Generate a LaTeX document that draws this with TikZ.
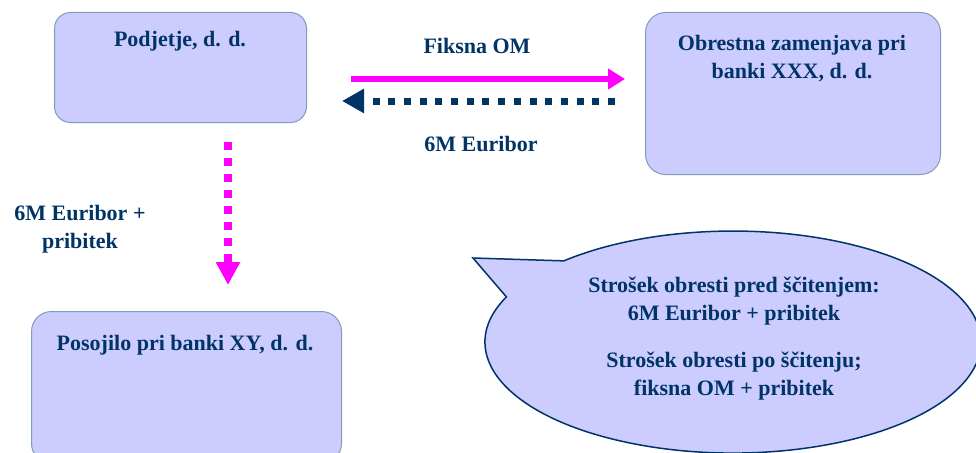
\documentclass[tikz,border=0pt]{standalone}
\usepackage{fontspec}
\setmainfont{Liberation Serif}
\usetikzlibrary{arrows.meta}
\definecolor{boxfill}{HTML}{CCCCFF}
\definecolor{boxline}{HTML}{7F9DB9}
\definecolor{navy}{HTML}{003366}
\definecolor{mag}{HTML}{FF00FF}
\begin{document}
\begin{tikzpicture}[x=1pt,y=-1pt,
  lbl/.style={font=\bfseries\fontsize{22}{28}\selectfont, text=navy, align=center, inner sep=0pt},
  entity/.style={draw=boxline, fill=boxfill, line width=1pt, rounded corners=16pt, anchor=north west, inner sep=0pt},
  flowpink/.style={mag, line width=6pt, -{Triangle[length=17pt,width=20pt]}},
  flownavy/.style={navy, line width=7pt, dash pattern=on 7pt off 8.7pt, -{Triangle[length=22pt,width=23pt]}},
  flowpinkdot/.style={mag, line width=8pt, dash pattern=on 8pt off 8pt, -{Triangle[length=23pt,width=23pt]}}]
\useasboundingbox (0,0) rectangle (976,452);
\clip (0,0) rectangle (976,452);

% boxes
\node[entity, minimum width=252pt, minimum height=110pt] (podjetje) at (54,12) {};
\node[entity, minimum width=295pt, minimum height=162pt, rounded corners=20pt] (swap) at (645,12) {};
\node[entity, minimum width=310pt, minimum height=152pt, rounded corners=20pt] (posojilo) at (31,311) {};

\node[lbl, anchor=base] (tpod) at (180,47) {Podjetje, d. d.};
\node[lbl, anchor=north] (tswap) at (792,35) {Obrestna zamenjava pri\\banki XXX, d. d.};
\node[lbl, anchor=base] (tpos) at (185,350) {Posojilo pri banki XY, d. d.};

% callout
\draw[navy, fill=boxfill, line width=1.5pt, line join=miter]
  (506.4,296.9) arc[start angle=204, end angle=-133, x radius=248, y radius=111]
  -- (473,258) -- cycle;
\coordinate (callout) at (733,342);
\node[lbl, anchor=north] (tcall) at (734,277)
  {Strošek obresti pred ščitenjem:\\6M Euribor + pribitek\\[19pt]Strošek obresti po ščitenju;\\fiksna OM + pribitek};

% arrows
\coordinate (fixA) at (351,79);
\coordinate (fixB) at (625,79);
\coordinate (eurA) at (615,101);
\coordinate (eurB) at (342,101);
\coordinate (loanA) at (228,142);
\coordinate (loanB) at (228,285);
\draw[flowpink] (fixA) -- (fixB);
\draw[flownavy] (eurA) -- (eurB);
\draw[flowpinkdot] (loanA) -- (loanB);

\node[lbl, anchor=base] (lfix) at (477,53) {Fiksna OM};
\node[lbl, anchor=base] (leur) at (481,151) {6M Euribor};
\node[lbl, anchor=north] (lloan) at (80,205) {6M Euribor +\\pribitek};
\end{tikzpicture}
\end{document}
